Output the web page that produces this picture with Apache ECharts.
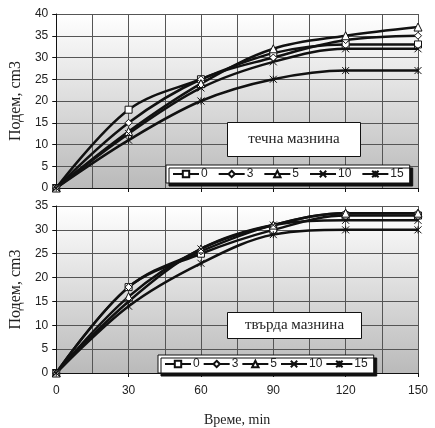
<!DOCTYPE html>
<html>
<head>
<meta charset="utf-8">
<script src="https://cdn.jsdelivr.net/npm/echarts@6/dist/echarts.min.js"></script>
<style>
  html, body { margin: 0; padding: 0; background: #fff; }
  #chart { width: 435px; height: 428px; }
</style>
</head>
<body>
<div id="chart"></div>
<script>
// time, min
const times = [0, 30, 60, 90, 120, 150]
const seriesNames = ['0', '3', '5', '10', '15']

// течна мазнина (top)
const liquid = [
  [0, 18, 25, 31, 33, 33],
  [0, 15, 25, 30, 34, 35],
  [0, 13, 24, 32, 35, 37],
  [0, 12.5, 23, 29, 32, 32],
  [0, 11, 20, 25, 27, 27]
]
// твърда мазнина (bottom)
const solid = [
  [0, 18, 25, 30, 33, 33],
  [0, 18, 25.5, 31, 33.5, 33.5],
  [0, 16, 26, 31, 33.5, 33.5],
  [0, 15, 26, 31, 32, 32],
  [0, 14, 23, 29, 30, 30]
]

const symbols = [
  'rect',
  'diamond',
  'triangle',
  'path://M0,0L10,10M10,0L0,10',
  'path://M0,0L10,10M10,0L0,10M5,0L5,10'
]

const serif = '"Liberation Serif", "DejaVu Serif", serif'
const sans = '"Liberation Sans", Arial, sans-serif'

function bg() {
  return new echarts.graphic.LinearGradient(0, 0, 0, 1, [
    { offset: 0, color: '#ffffff' },
    { offset: 1, color: '#bababa' }
  ])
}

function makeSeries(values, idx) {
  return values.map((vals, i) => ({
    name: seriesNames[i],
    type: 'line',
    xAxisIndex: idx,
    yAxisIndex: idx,
    smooth: 0.35,
    symbol: symbols[i],
    symbolSize: i === 2 ? 8 : 7,
    showAllSymbol: true,
    lineStyle: { color: '#111', width: 2.5 },
    itemStyle: { color: '#fff', borderColor: '#111', borderWidth: 1 },
    data: times.map((t, k) => [t, vals[k]]),
    animation: false,
    z: 3
  }))
}

function xAxis(idx, showLabels) {
  return {
    type: 'value',
    gridIndex: idx,
    min: 0,
    max: 150,
    interval: 30,
    axisLine: { show: true, onZero: false, lineStyle: { color: '#111', width: 1 } },
    axisTick: { show: true, length: 4, lineStyle: { color: '#111' } },
    axisLabel: { show: showLabels, margin: 12, color: '#222', fontSize: 12, fontFamily: sans },
    splitLine: { show: true, lineStyle: { color: '#555', width: 1 } },
    minorTick: { show: false, splitNumber: 2 },
    minorSplitLine: { show: true, lineStyle: { color: '#555', width: 1 } },
    name: showLabels ? 'Време, min' : '',
    nameLocation: 'middle',
    nameGap: 40,
    nameTextStyle: { color: '#222', fontSize: 14, fontFamily: serif }
  }
}

function yAxis(idx, max) {
  return {
    type: 'value',
    gridIndex: idx,
    min: 0,
    max: max,
    interval: 5,
    axisLine: { show: true, lineStyle: { color: '#111', width: 1 } },
    axisTick: { show: true, length: 4, lineStyle: { color: '#111' } },
    axisLabel: { margin: 8, color: '#222', fontSize: 12, fontFamily: sans },
    splitLine: { show: true, lineStyle: { color: '#555', width: 1 } },
    name: 'Подем, cm3',
    nameLocation: 'middle',
    nameGap: 31,
    nameTextStyle: { color: '#222', fontSize: 16, fontFamily: serif }
  }
}

function legend(left, top, gap) {
  return {
    data: seriesNames,
    left: left,
    top: top,
    orient: 'horizontal',
    itemWidth: 26,
    itemHeight: 8,
    itemGap: gap,
    padding: [3, 6, 3, 6],
    backgroundColor: '#fff',
    borderColor: '#111',
    borderWidth: 1,
    shadowColor: '#111',
    shadowBlur: 0,
    shadowOffsetX: 3,
    shadowOffsetY: 3,
    selectedMode: false,
    textStyle: { color: '#222', fontSize: 12, fontFamily: sans, padding: [0, 0, 0, -3] }
  }
}

function labelBox(left, top, w, h, text) {
  return {
    type: 'group',
    left: left,
    top: top,
    z: 20,
    children: [
      {
        type: 'rect',
        z: 20,
        shape: { x: 0, y: 0, width: w, height: h },
        style: { fill: '#fff', stroke: '#111', lineWidth: 1 }
      },
      {
        type: 'text',
        z: 21,
        x: w / 2,
        y: h / 2,
        style: {
          text: text,
          fill: '#222',
          font: '15px ' + serif,
          align: 'center',
          verticalAlign: 'middle'
        }
      }
    ]
  }
}

const chart = echarts.init(document.getElementById('chart'))
chart.setOption({
  backgroundColor: '#fff',
  animation: false,
  grid: [
    { left: 52, top: 14, width: 366, height: 174, show: true, backgroundColor: bg(), borderWidth: 0 },
    { left: 52, top: 206, width: 366, height: 172, show: true, backgroundColor: bg(), borderWidth: 0 }
  ],
  xAxis: [xAxis(0, false), xAxis(1, true)],
  yAxis: [yAxis(0, 40), yAxis(1, 35)],
  legend: [legend(166, 165, 10), legend(158, 355, 3)],
  graphic: [
    labelBox(227, 122, 133, 34, 'течна мазнина'),
    labelBox(227, 312, 134, 26, 'твърда мазнина')
  ],
  series: makeSeries(liquid, 0).concat(makeSeries(solid, 1))
})
</script>
</body>
</html>
